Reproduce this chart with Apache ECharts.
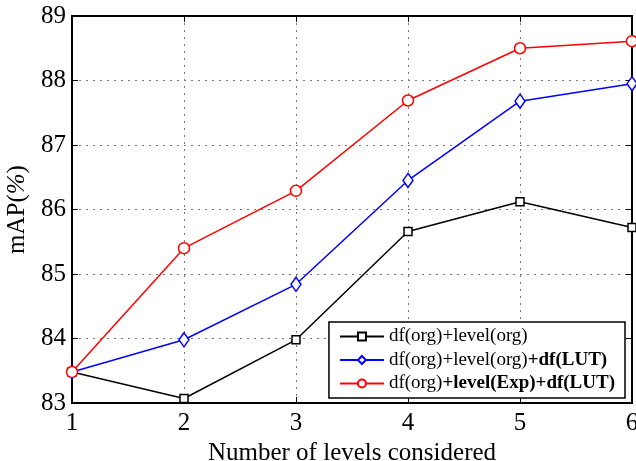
<!DOCTYPE html>
<html><head><meta charset="utf-8">
<script src="https://cdn.jsdelivr.net/npm/echarts@6/dist/echarts.min.js"></script>
<style>html,body{margin:0;padding:0;background:#fff}#c{width:636px;height:461px}</style>
</head><body><div id="c"></div>
<script>
const levels = [1, 2, 3, 4, 5, 6];
const seriesNames = ['df(org)+level(org)', 'df(org)+level(org)+df(LUT)', 'df(org)+level(Exp)+df(LUT)'];
const orgOrg = [83.48, 83.07, 83.98, 85.66, 86.12, 85.72];
const orgOrgLUT = [83.48, 83.98, 84.84, 86.45, 87.68, 87.95];
const expLUT = [83.48, 85.40, 86.29, 87.69, 88.50, 88.61];
const yTicks = { min: 83, max: 89, interval: 1 };

const font = 'Liberation Serif';
const colors = ['#000000', '#0000ff', '#ff0000'];
const symbols = ['rect', 'diamond', 'circle'];
const symSizes = [[8, 8], [10, 14], [11, 11]];
const dataSets = [orgOrg, orgOrgLUT, expLUT];
const legendRich = [
  '{n|df(org)+level(org)}',
  '{n|df(org)+level(org)}{b|+df(LUT)}',
  '{n|df(org)}{b|+level(Exp)+df(LUT)}'
];

const chart = echarts.init(document.getElementById('c'));
chart.setOption({
  backgroundColor: '#fff',
  animation: false,
  grid: { left: 72, right: 4, top: 16, bottom: 58, outerBoundsMode: 'none', containLabel: false,
          show: true, borderColor: '#000', borderWidth: 2 },
  legend: {
    orient: 'vertical', right: 11, top: 322,
    padding: [5, 10, 5, 10], itemGap: 4.5, itemWidth: 44, itemHeight: 10,
    backgroundColor: '#fff', borderColor: '#000', borderWidth: 1.5,
    data: seriesNames,
    formatter: function (name) { return legendRich[seriesNames.indexOf(name)]; },
    textStyle: {
      fontFamily: font, fontSize: 19, color: '#000',
      rich: {
        n: { fontFamily: font, fontSize: 19, color: '#000' },
        b: { fontFamily: font, fontSize: 19, color: '#000', fontWeight: 'bold' }
      }
    }
  },
  xAxis: [{
    type: 'value', min: 1, max: 6, interval: 1,
    name: 'Number of levels considered', nameLocation: 'middle', nameGap: 34,
    nameTextStyle: { fontFamily: font, fontSize: 25, color: '#000' },
    axisLine: { show: true, lineStyle: { color: '#000', width: 2 } },
    axisTick: { show: true, inside: true, length: 6, lineStyle: { color: '#000' } },
    axisLabel: { fontFamily: font, fontSize: 25, color: '#000', margin: 8 },
    splitLine: { show: true, lineStyle: { type: [2, 5], color: '#777', width: 1 } }
  }, {
    type: 'value', min: 1, max: 6, interval: 1, position: 'top',
    axisLine: { show: true, lineStyle: { color: '#000', width: 2 } },
    axisTick: { show: true, inside: true, length: 6, lineStyle: { color: '#000' } },
    axisLabel: { show: false }, splitLine: { show: false }
  }],
  yAxis: [{
    type: 'value', min: yTicks.min, max: yTicks.max, interval: yTicks.interval,
    name: '{a|mAP(}{i|%}{a|)}', nameLocation: 'middle', nameGap: 37, nameRotate: 90,
    nameTextStyle: {
      fontFamily: font, fontSize: 25, color: '#000',
      rich: {
        a: { fontFamily: font, fontSize: 25, color: '#000' },
        i: { fontFamily: font, fontSize: 25, color: '#000', fontStyle: 'italic' }
      }
    },
    axisLine: { show: true, lineStyle: { color: '#000', width: 2 } },
    axisTick: { show: true, inside: true, length: 6, lineStyle: { color: '#000' } },
    axisLabel: { fontFamily: font, fontSize: 25, color: '#000', margin: 6 },
    splitLine: { show: true, lineStyle: { type: [2, 5], color: '#777', width: 1 } }
  }, {
    type: 'value', min: yTicks.min, max: yTicks.max, interval: yTicks.interval, position: 'right',
    axisLine: { show: true, lineStyle: { color: '#000', width: 2 } },
    axisTick: { show: true, inside: true, length: 6, lineStyle: { color: '#000' } },
    axisLabel: { show: false }, splitLine: { show: false }
  }],
  series: seriesNames.map(function (nm, k) {
    return {
      name: nm, type: 'line', xAxisIndex: 0, yAxisIndex: 0,
      data: levels.map(function (x, i) { return [x, dataSets[k][i]]; }),
      symbol: symbols[k], symbolSize: symSizes[k], showSymbol: true,
      lineStyle: { color: colors[k], width: 1.5 },
      itemStyle: { color: '#fff', borderColor: colors[k], borderWidth: 1.5 },
      z: 2 + k
    };
  })
});
</script></body></html>
